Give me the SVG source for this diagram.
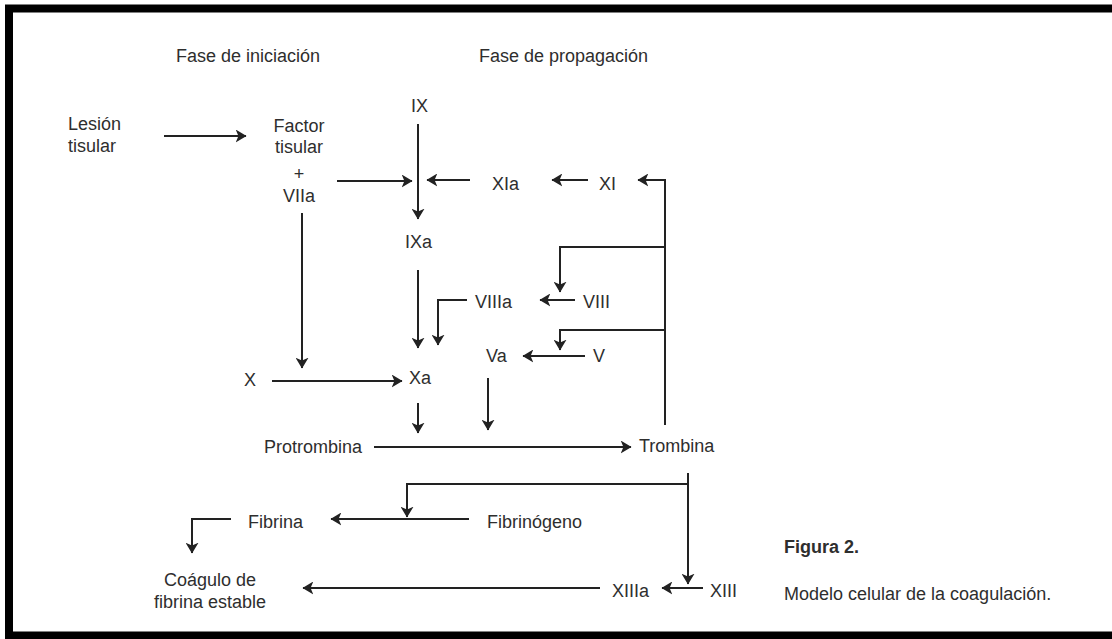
<svg xmlns="http://www.w3.org/2000/svg" width="1112" height="639" viewBox="0 0 1112 639">
<style>
text{font-family:"Liberation Sans",Arial,sans-serif;font-size:18px;fill:#2e2e2e}
.c{text-anchor:middle}
.b{font-weight:bold}
.ln{fill:none;stroke:#222;stroke-width:2}
.ar{marker-end:url(#ah)}
</style>
<defs>
<marker id="ah" viewBox="0 0 10 12" refX="9.5" refY="6" markerWidth="11" markerHeight="13" markerUnits="userSpaceOnUse" orient="auto">
<path d="M0,0 L10,6 L0,12 L2.5,6 z" fill="#222"/>
</marker>
</defs>
<rect width="1112" height="639" fill="#fff"/>
<path d="M9,639 V8.5 H1112 M9,635.5 H1112" fill="none" stroke="#000" stroke-width="8"/>
<g id="titles">
<text x="176" y="62">Fase de iniciación</text>
<text x="479" y="62">Fase de propagación</text>
</g>
<g id="connectors">
<path class="ln ar" d="M164,136 H246"/>
<path class="ln ar" d="M337,181 H412"/>
<path class="ln ar" d="M418,124 V219"/>
<path class="ln ar" d="M470,180 H427"/>
<path class="ln ar" d="M588,180 H552"/>
<path class="ln ar" d="M665,425 V180 H638"/>
<path class="ln ar" d="M665,247 H560 V292"/>
<path class="ln ar" d="M665,330 H560 V350"/>
<path class="ln ar" d="M418,270 V348"/>
<path class="ln ar" d="M467,300 H438 V345"/>
<path class="ln ar" d="M575,300 H540"/>
<path class="ln ar" d="M585,356 H523"/>
<path class="ln ar" d="M302,213 V368"/>
<path class="ln ar" d="M272,381 H402"/>
<path class="ln ar" d="M418,403 V433"/>
<path class="ln ar" d="M488,378 V430"/>
<path class="ln ar" d="M374,447 H631"/>
<path class="ln ar" d="M688,473 V584"/>
<path class="ln ar" d="M688,484 H407 V517"/>
<path class="ln ar" d="M469,519 H331"/>
<path class="ln ar" d="M231,519 H192 V553"/>
<path class="ln ar" d="M600,588 H303"/>
<path class="ln ar" d="M703,588 H662"/>
</g>
<g id="lesion"><text x="68" y="130">Lesión</text><text x="68" y="152">tisular</text></g>
<g id="factor-tisular"><text class="c" x="299" y="132">Factor</text><text class="c" x="299" y="153">tisular</text><text class="c" x="299" y="180">+</text><text class="c" x="299" y="202">VIIa</text></g>
<g id="IX"><text x="411" y="112">IX</text></g>
<g id="XIa"><text x="492" y="190">XIa</text></g>
<g id="XI"><text x="599" y="190">XI</text></g>
<g id="IXa"><text x="405" y="248">IXa</text></g>
<g id="VIIIa"><text x="475" y="308">VIIIa</text></g>
<g id="VIII"><text x="583" y="308">VIII</text></g>
<g id="Va"><text x="486" y="362">Va</text></g>
<g id="V"><text x="593" y="362">V</text></g>
<g id="X"><text x="244" y="386">X</text></g>
<g id="Xa"><text x="409" y="384">Xa</text></g>
<g id="protrombina"><text x="264" y="453">Protrombina</text></g>
<g id="trombina"><text x="639" y="452">Trombina</text></g>
<g id="fibrina"><text x="248" y="528">Fibrina</text></g>
<g id="fibrinogeno"><text x="487" y="528">Fibrinógeno</text></g>
<g id="coagulo"><text class="c" x="210" y="586">Coágulo de</text><text class="c" x="210" y="608">fibrina estable</text></g>
<g id="XIIIa"><text x="612" y="597">XIIIa</text></g>
<g id="XIII"><text x="710" y="597">XIII</text></g>
<g id="caption"><text class="b" x="784" y="553">Figura 2.</text><text x="784" y="600">Modelo celular de la coagulación.</text></g>
</svg>
